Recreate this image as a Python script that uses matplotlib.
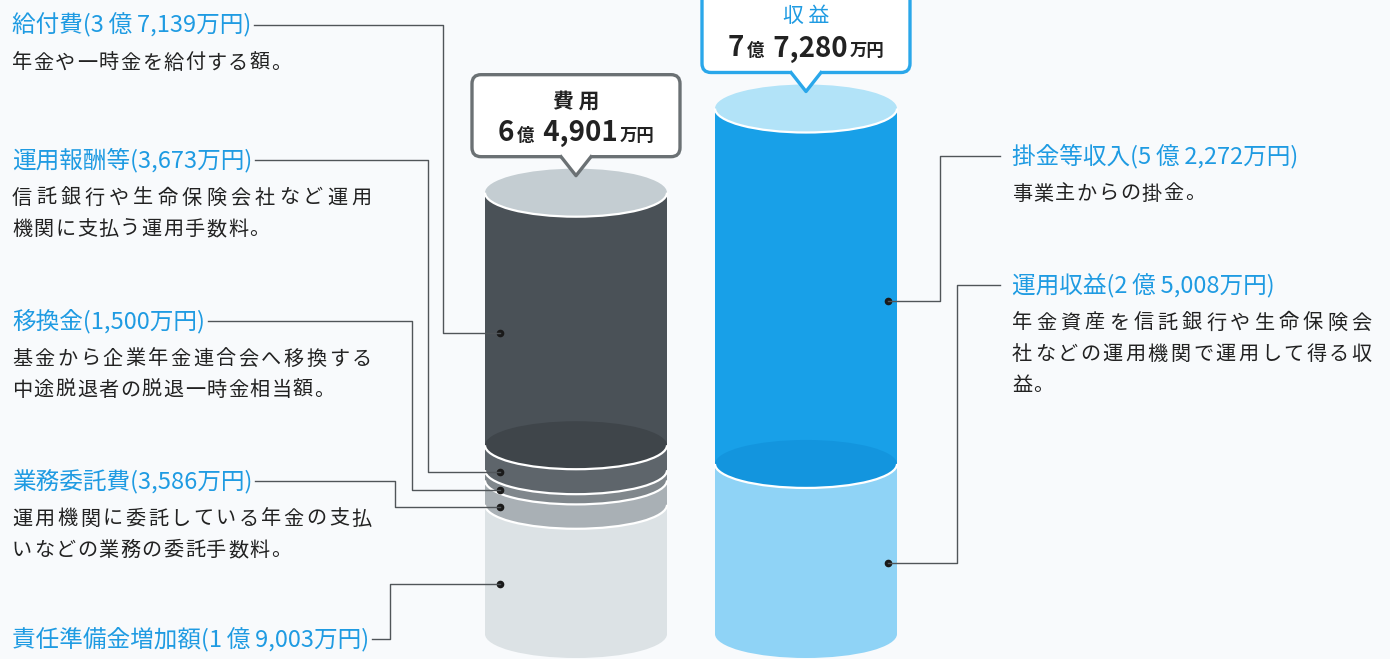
import numpy as np
import matplotlib.pyplot as plt
from matplotlib.patches import Rectangle, Ellipse, Arc, FancyBboxPatch, Polygon
from matplotlib.offsetbox import TextArea, HPacker, AnnotationBbox

plt.rcParams['font.family'] = ['Noto Sans CJK JP', 'DejaVu Sans']

# ---- data (単位: 万円) ----
cost_title = '費 用'
cost_names = ['給付費', '運用報酬等', '移換金', '業務委託費', '責任準備金増加額']
cost_values = [37139, 3673, 1500, 3586, 19003]
cost_notes = [
    ['年金や一時金を給付する額。'],
    ['信託銀行や生命保険会社など運用', '機関に支払う運用手数料。'],
    ['基金から企業年金連合会へ移換する', '中途脱退者の脱退一時金相当額。'],
    ['運用機関に委託している年金の支払', 'いなどの業務の委託手数料。'],
    [],
]
rev_title = '収 益'
rev_names = ['掛金等収入', '運用収益']
rev_values = [52272, 25008]
rev_notes = [
    ['事業主からの掛金。'],
    ['年金資産を信託銀行や生命保険会', '社などの運用機関で運用して得る収', '益。'],
]

# colours
cost_colors = ['#4a5157', '#5e656b', '#80878c', '#a9b0b5', '#dce2e5']
cost_top = '#c4cdd2'
cost_shade = '#3f454a'
rev_colors = ['#18a0e8', '#8fd3f6']
rev_top = '#b2e3f8'
rev_shade = '#1395de'
BLUE = '#1f9be2'
INK = '#222222'
LINE = '#505559'


def yen(v):
    if v >= 10000:
        return f'{v // 10000}\u2009億\u2009{v % 10000:,}万円'
    return f'{v:,}万円'


# ---- layout ----
W, H = 1390, 659
SCALE = 0.0068      # px per 万円
BASE = 634          # bottom of cylinders (px from top)
CYL_W = 182
HH = 24 / SCALE     # half height of the ellipses, in 万円
cyl_x = [576, 806]

cost_label_y = [25, 160, 321, 481, 639]
cost_elbow_x = [443, 428, 412, 395, 390]
rev_label_y = [156, 285]
rev_elbow_x = [940, 957]

fig = plt.figure(figsize=(W / 100, H / 100), dpi=100)
fig.patch.set_facecolor('#f8fafc')
ax = fig.add_axes([0, 0, 1, 1])
ax.set_xlim(0, W)
ax.set_ylim(-(H - BASE) / SCALE, BASE / SCALE)
ax.axis('off')
ov = fig.add_axes([0, 0, 1, 1])
ov.set_xlim(0, W)
ov.set_ylim(H, 0)
ov.axis('off')


def to_px(x, v):
    return ov.transData.inverted().transform(ax.transData.transform((x, v)))


def cylinder(xc, values, colors, top_color, shade):
    vals = values[::-1]
    cols = colors[::-1]
    edges = np.concatenate([[0], np.cumsum(vals)])
    left = xc - CYL_W / 2
    n = len(vals)
    for i in range(n):
        y0, y1 = edges[i], edges[i + 1]
        ax.add_patch(Rectangle((left, y0), CYL_W, y1 - y0, color=cols[i], lw=0))
        fc = shade if (i == n - 1 and i > 0) else cols[i]
        ax.add_patch(Ellipse((xc, y0), CYL_W, 2 * HH, color=fc, lw=0))
        if i > 0:
            ax.add_patch(Arc((xc, y0), CYL_W, 2 * HH, theta1=180, theta2=360,
                             color='white', lw=1.6))
    ax.add_patch(Ellipse((xc, edges[-1]), CYL_W, 2 * HH, color=top_color, lw=0))
    ax.add_patch(Arc((xc, edges[-1]), CYL_W, 2 * HH, theta1=180, theta2=360,
                     color='white', lw=1.6))
    mids = (edges[:-1] + edges[1:]) / 2 - 0.6 * HH
    return edges[-1], mids[::-1]


def callout(xc, top_v, title, total, edge, title_color, title_weight):
    tx, ty = to_px(xc, top_v)
    tip = ty - 17
    bb = ty - 36
    bt = bb - 82
    bw = 208
    ov.add_patch(FancyBboxPatch((tx - bw / 2, bt), bw, bb - bt,
                                boxstyle='round,pad=0,rounding_size=9',
                                fc='white', ec=edge, lw=2.4, zorder=3))
    ov.add_patch(Polygon([(tx - 17, bb - 3), (tx + 17, bb - 3), (tx, tip)],
                         closed=True, fc='white', ec='none', zorder=4))
    ov.plot([tx - 15, tx, tx + 15], [bb, tip, bb], color=edge, lw=2.4,
            solid_joinstyle='round', zorder=5)
    ov.text(tx, bb - 56, title, ha='center', va='center', fontsize=15,
            color=title_color, fontweight=title_weight, zorder=6)
    big = dict(fontsize=20, fontweight='bold', color=INK)
    small = dict(fontsize=12.5, fontweight='bold', color=INK)
    parts = [TextArea(str(total // 10000), textprops=big),
             TextArea('億', textprops=small),
             TextArea(f' {total % 10000:,}', textprops=big),
             TextArea('万円', textprops=small)]
    pack = HPacker(children=parts, align='baseline', pad=0, sep=2)
    ab = AnnotationBbox(pack, (tx, bb - 24), xycoords='data', frameon=False,
                        box_alignment=(0.5, 0.5), pad=0, zorder=6)
    ov.add_artist(ab)


def note_line(x0, y, s, width=None):
    n = len(s)
    pitch = 21.6 if width is None else (width - 20.5) / (n - 1)
    for i, ch in enumerate(s):
        ov.text(x0 + i * pitch, y, ch, ha='left', va='center', fontsize=14.5,
                color=INK)


def label_block(x0, y, name, value, notes):
    t = ov.text(x0, y, f'{name}({yen(value)})', ha='left', va='center',
                fontsize=17, color=BLUE)
    for j, line in enumerate(notes):
        width = 360 if j < len(notes) - 1 else None
        note_line(x0, y + 38 + j * 31.5, line, width)
    return t


cost_top_v, cost_mid = cylinder(cyl_x[0], cost_values, cost_colors, cost_top, cost_shade)
rev_top_v, rev_mid = cylinder(cyl_x[1], rev_values, rev_colors, rev_top, rev_shade)

cost_dot_x = cyl_x[0] - CYL_W / 2 + 15
rev_dot_x = cyl_x[1] + CYL_W / 2 - 9
ax.plot([cost_dot_x] * len(cost_mid), cost_mid, 'o', ms=4.5, color='#1a1a1a', zorder=5)
ax.plot([rev_dot_x] * len(rev_mid), rev_mid, 'o', ms=4.5, color='#1a1a1a', zorder=5)

callout(cyl_x[0], cost_top_v, cost_title, sum(cost_values), '#6b7174', INK, 'bold')
callout(cyl_x[1], rev_top_v, rev_title, sum(rev_values), '#2aa7ea', BLUE, 'normal')

cost_texts = [label_block(12, y, nm, v, nt)
              for y, nm, v, nt in zip(cost_label_y, cost_names, cost_values, cost_notes)]
for y, nm, v, nt in zip(rev_label_y, rev_names, rev_values, rev_notes):
    label_block(1012, y, nm, v, nt)

# leader lines
fig.canvas.draw()
r = fig.canvas.get_renderer()
for t, y, ex, mv in zip(cost_texts, cost_label_y, cost_elbow_x, cost_mid):
    bb = t.get_window_extent(r)
    x_end = ov.transData.inverted().transform((bb.x1, bb.y0))[0] + 3
    dx, dy = to_px(cost_dot_x, mv)
    ov.plot([x_end, ex, ex, dx], [y, y, dy, dy], color=LINE, lw=1.0, zorder=2)
for y, ex, mv in zip(rev_label_y, rev_elbow_x, rev_mid):
    dx, dy = to_px(rev_dot_x, mv)
    ov.plot([1000, ex, ex, dx], [y, y, dy, dy], color=LINE, lw=1.0, zorder=2)

fig.savefig('out.png', dpi=100, facecolor=fig.get_facecolor())
